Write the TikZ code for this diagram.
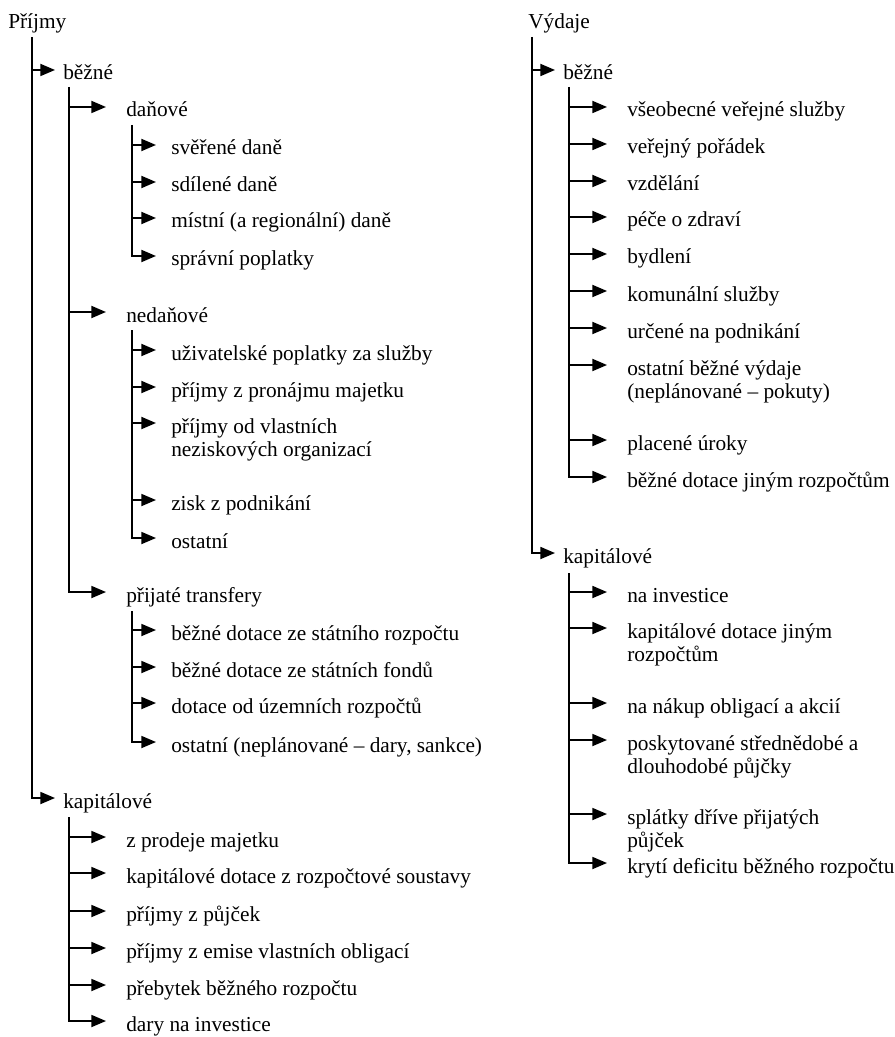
\documentclass[tikz,border=0pt]{standalone}
\usepackage{fontspec}
\setmainfont{Liberation Serif}
\usetikzlibrary{arrows.meta,calc}
\tikzset{
  lbl/.style={anchor=base west, inner sep=0pt, font=\fontsize{16pt}{17.25pt}\selectfont},
  arr/.style={line width=1.35pt, -{Triangle[length=11pt,width=9pt]}}
}
\newcommand\branch[3]{\coordinate (#2-t) at ($(#2.base west)+(-#3,-10)$);\draw[arr] (#1 |- #2-t) -- (#2-t);}
\newcommand\lastbranch[3]{\coordinate (#2-t) at ($(#2.base west)+(-#3,-10)$);\draw[arr] (#1) |- (#2-t);}
\newcommand\twol[2]{\begin{tabular}[t]{@{}l@{}}#1\\#2\end{tabular}}
\begin{document}
\begin{tikzpicture}[x=0.75pt,y=-0.75pt]
\useasboundingbox (0,0) rectangle (894,1037);
% ---------------- Příjmy ----------------
\node[lbl] (p0) at (8,29) {Příjmy};
\coordinate (tp0) at (32,37);
\node[lbl] (pb) at (63,80) {běžné};
\node[lbl] (pk) at (63,808) {kapitálové};
\branch{tp0}{pb}{8}
\lastbranch{tp0}{pk}{8}

\coordinate (tpb) at (69,87);
\node[lbl] (pd) at (126,117) {daňové};
\node[lbl] (pn) at (126,322) {nedaňové};
\node[lbl] (pt) at (126,602) {přijaté transfery};
\branch{tpb}{pd}{20}
\branch{tpb}{pn}{20}
\lastbranch{tpb}{pt}{20}

\coordinate (tpd) at (132,125);
\node[lbl] (pd1) at (171,155) {svěřené daně};
\node[lbl] (pd2) at (171,192) {sdílené daně};
\node[lbl] (pd3) at (171,228) {místní (a regionální) daně};
\node[lbl] (pd4) at (171,266) {správní poplatky};
\branch{tpd}{pd1}{15}
\branch{tpd}{pd2}{15}
\branch{tpd}{pd3}{15}
\lastbranch{tpd}{pd4}{15}

\coordinate (tpn) at (132,330);
\node[lbl] (pn1) at (171,360) {uživatelské poplatky za služby};
\node[lbl] (pn2) at (171,397) {příjmy z pronájmu majetku};
\node[lbl] (pn3) at (171,433) {\twol{příjmy od vlastních}{neziskových organizací}};
\node[lbl] (pn4) at (171,510) {zisk z podnikání};
\node[lbl] (pn5) at (171,548) {ostatní};
\branch{tpn}{pn1}{15}
\branch{tpn}{pn2}{15}
\branch{tpn}{pn3}{15}
\branch{tpn}{pn4}{15}
\lastbranch{tpn}{pn5}{15}

\coordinate (tpt) at (132,611);
\node[lbl] (pt1) at (171,640) {běžné dotace ze státního rozpočtu};
\node[lbl] (pt2) at (171,677) {běžné dotace ze státních fondů};
\node[lbl] (pt3) at (171,713) {dotace od územních rozpočtů};
\node[lbl] (pt4) at (171,752) {ostatní (neplánované – dary, sankce)};
\branch{tpt}{pt1}{15}
\branch{tpt}{pt2}{15}
\branch{tpt}{pt3}{15}
\lastbranch{tpt}{pt4}{15}

\coordinate (tpk) at (69,817);
\node[lbl] (pk1) at (126,847) {z prodeje majetku};
\node[lbl] (pk2) at (126,883) {kapitálové dotace z rozpočtové soustavy};
\node[lbl] (pk3) at (126,921) {příjmy z půjček};
\node[lbl] (pk4) at (126,958) {příjmy z emise vlastních obligací};
\node[lbl] (pk5) at (126,995) {přebytek běžného rozpočtu};
\node[lbl] (pk6) at (126,1031) {dary na investice};
\branch{tpk}{pk1}{20}
\branch{tpk}{pk2}{20}
\branch{tpk}{pk3}{20}
\branch{tpk}{pk4}{20}
\branch{tpk}{pk5}{20}
\lastbranch{tpk}{pk6}{20}

% ---------------- Výdaje ----------------
\node[lbl] (v0) at (528,29) {Výdaje};
\coordinate (tv0) at (532,37);
\node[lbl] (vb) at (563,80) {běžné};
\node[lbl] (vk) at (563,563) {kapitálové};
\branch{tv0}{vb}{8}
\lastbranch{tv0}{vk}{8}

\coordinate (tvb) at (569,87);
\node[lbl] (vb1) at (627,117) {všeobecné veřejné služby};
\node[lbl] (vb2) at (627,154) {veřejný pořádek};
\node[lbl] (vb3) at (627,191) {vzdělání};
\node[lbl] (vb4) at (627,227) {péče o zdraví};
\node[lbl] (vb5) at (627,264) {bydlení};
\node[lbl] (vb6) at (627,301) {komunální služby};
\node[lbl] (vb7) at (627,338) {určené na podnikání};
\node[lbl] (vb8) at (627,375) {\twol{ostatní běžné výdaje}{(neplánované – pokuty)}};
\node[lbl] (vb9) at (627,450) {placené úroky};
\node[lbl] (vb10) at (627,487) {běžné dotace jiným rozpočtům};
\foreach \n in {vb1,vb2,vb3,vb4,vb5,vb6,vb7,vb8,vb9}{\branch{tvb}{\n}{20}}
\lastbranch{tvb}{vb10}{20}

\coordinate (tvk) at (569,573);
\node[lbl] (vk1) at (627,602) {na investice};
\node[lbl] (vk2) at (627,638) {\twol{kapitálové dotace jiným}{rozpočtům}};
\node[lbl] (vk3) at (627,713) {na nákup obligací a akcií};
\node[lbl] (vk4) at (627,750) {\twol{poskytované střednědobé a}{dlouhodobé půjčky}};
\node[lbl] (vk5) at (627,824) {\twol{splátky dříve přijatých}{půjček}};
\node[lbl] (vk6) at (627,873) {krytí deficitu běžného rozpočtu};
\foreach \n in {vk1,vk2,vk3,vk4,vk5}{\branch{tvk}{\n}{20}}
\lastbranch{tvk}{vk6}{20}
\end{tikzpicture}
\end{document}
